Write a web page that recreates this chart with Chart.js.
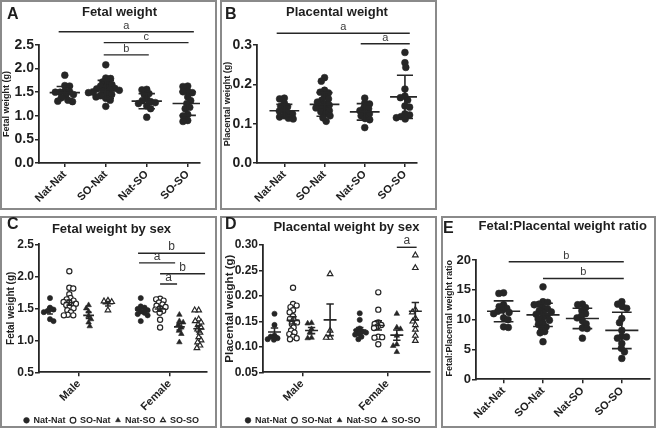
<!DOCTYPE html>
<html>
<head>
<meta charset="utf-8">
<script src="https://cdn.jsdelivr.net/npm/chart.js"></script>
<style>
  body { margin: 0; background: #fff; width: 656px; height: 428px; position: relative; overflow: hidden; font-family: "Liberation Sans", Arial, sans-serif; }
  .panel { position: absolute; box-sizing: border-box; border: 2px solid #8a8a8a; background: #fff; }
  .panel canvas { position: absolute; left: 0; top: 0; }
  .tag { position: absolute; font-weight: bold; font-size: 16px; line-height: 16px; color: #1e1e1e; }
</style>
</head>
<body>
<div class="panel" style="left:0;top:0;width:217px;height:210px"><canvas id="chartA" width="213" height="206"></canvas><div class="tag" style="left:5px;top:4px">A</div></div>
<div class="panel" style="left:220px;top:0;width:217px;height:210px"><canvas id="chartB" width="213" height="206"></canvas><div class="tag" style="left:3px;top:4px">B</div></div>
<div class="panel" style="left:0;top:216px;width:217px;height:212px"><canvas id="chartC" width="213" height="208"></canvas><div class="tag" style="left:5px;top:-2px">C</div></div>
<div class="panel" style="left:220px;top:216px;width:217px;height:212px"><canvas id="chartD" width="213" height="208"></canvas><div class="tag" style="left:3px;top:-2px">D</div></div>
<div class="panel" style="left:441px;top:216px;width:215px;height:212px"><canvas id="chartE" width="211" height="208"></canvas><div class="tag" style="left:0px;top:2px">E</div></div>

<script>
// ---- data ----
const groups = ["Nat-Nat", "SO-Nat", "Nat-SO", "SO-SO"];
const sexes = ["Male", "Female"];

// A: fetal weight (g), mean ± SD
const fetalWeight = [
  [1.86, 1.64, 1.63, 1.52, 1.51, 1.50, 1.50, 1.45, 1.42, 1.38, 1.33, 1.31, 1.30],
  [2.08, 1.80, 1.79, 1.72, 1.70, 1.66, 1.63, 1.60, 1.58, 1.57, 1.55, 1.54, 1.52, 1.50, 1.49, 1.47, 1.45, 1.43, 1.40, 1.37, 1.33, 1.20],
  [1.56, 1.55, 1.47, 1.45, 1.36, 1.32, 1.30, 1.28, 1.26, 1.21, 1.15, 0.97],
  [1.63, 1.62, 1.52, 1.51, 1.49, 1.40, 1.32, 1.26, 1.18, 1.15, 1.03, 1.00, 0.90, 0.88]
];
const fetalMean = [1.49, 1.56, 1.31, 1.26];
const fetalSD = [0.13, 0.19, 0.16, 0.25];
const fetalSig = [
  { from: 0.85, to: 4.15, y: 2.78, text: "a" },
  { from: 1.95, to: 4.02, y: 2.55, text: "c" },
  { from: 1.95, to: 3.05, y: 2.29, text: "b" }
];

// B: placental weight (g), mean ± SD
const placentalWeight = [
  [0.165, 0.163, 0.152, 0.144, 0.143, 0.135, 0.132, 0.128, 0.125, 0.120, 0.117, 0.114, 0.112],
  [0.217, 0.208, 0.185, 0.180, 0.178, 0.170, 0.163, 0.160, 0.155, 0.150, 0.147, 0.143, 0.140, 0.137, 0.133, 0.130, 0.125, 0.120, 0.115, 0.106],
  [0.165, 0.152, 0.150, 0.140, 0.138, 0.133, 0.128, 0.125, 0.120, 0.113, 0.110, 0.090],
  [0.281, 0.255, 0.243, 0.188, 0.170, 0.166, 0.160, 0.145, 0.142, 0.125, 0.122, 0.118, 0.115, 0.112]
];
const placentalMean = [0.133, 0.149, 0.130, 0.168];
const placentalSD = [0.016, 0.030, 0.021, 0.055];
const placentalSig = [
  { from: 0.81, to: 4.12, y: 0.330, text: "a" },
  { from: 2.90, to: 4.12, y: 0.303, text: "a" }
];

// C: fetal weight by sex (g), mean ± SEM
const fetalMale = [
  [1.66, 1.51, 1.48, 1.46, 1.44, 1.33, 1.30],
  [2.08, 1.82, 1.81, 1.72, 1.66, 1.64, 1.62, 1.60, 1.59, 1.57, 1.55, 1.52, 1.50, 1.47, 1.44, 1.40, 1.39, 1.39],
  [1.55, 1.50, 1.45, 1.38, 1.33, 1.28, 1.22],
  [1.62, 1.61, 1.60, 1.47]
];
const fetalFemale = [
  [1.66, 1.53, 1.51, 1.49, 1.47, 1.45, 1.43, 1.41, 1.39, 1.30],
  [1.65, 1.64, 1.62, 1.59, 1.56, 1.54, 1.52, 1.50, 1.48, 1.46, 1.43, 1.32, 1.20],
  [1.40, 1.30, 1.28, 1.24, 1.20, 1.15, 1.10, 0.97],
  [1.47, 1.47, 1.33, 1.30, 1.28, 1.24, 1.20, 1.17, 1.12, 1.05, 1.00, 0.97, 0.92, 0.88]
];
const fetalMaleMean = [1.46, 1.59, 1.39, 1.57];
const fetalMaleSEM = [0.05, 0.04, 0.05, 0.035];
const fetalFemaleMean = [1.47, 1.49, 1.21, 1.18];
const fetalFemaleSEM = [0.03, 0.035, 0.05, 0.05];
const fetalSexSig = [
  { from: 5.56, to: 9.03, y: 2.36, text: "b" },
  { from: 5.61, to: 7.48, y: 2.21, text: "a" },
  { from: 6.70, to: 9.03, y: 2.04, text: "b" },
  { from: 6.70, to: 7.58, y: 1.88, text: "a" }
];

// D: placental weight by sex (g), mean ± SEM
const placentalMale = [
  [0.165, 0.143, 0.122, 0.120, 0.117, 0.115, 0.114],
  [0.216, 0.184, 0.181, 0.178, 0.172, 0.168, 0.160, 0.155, 0.152, 0.148, 0.145, 0.138, 0.132, 0.128, 0.125, 0.120, 0.117, 0.115],
  [0.147, 0.146, 0.135, 0.128, 0.118, 0.117],
  [0.243, 0.132, 0.118, 0.118]
];
const placentalFemale = [
  [0.166, 0.153, 0.136, 0.132, 0.130, 0.128, 0.126, 0.124, 0.120, 0.115],
  [0.207, 0.173, 0.148, 0.145, 0.143, 0.140, 0.137, 0.120, 0.119, 0.118, 0.105],
  [0.165, 0.138, 0.135, 0.122, 0.105, 0.102, 0.090],
  [0.280, 0.255, 0.173, 0.168, 0.156, 0.150, 0.143, 0.134, 0.122, 0.112]
];
const placentalMaleMean = [0.129, 0.152, 0.132, 0.153];
const placentalMaleSEM = [0.008, 0.007, 0.006, 0.031];
const placentalFemaleMean = [0.133, 0.142, 0.123, 0.170];
const placentalFemaleSEM = [0.005, 0.009, 0.010, 0.017];
const placentalSexSig = [
  { from: 7.60, to: 8.67, y: 0.2955, text: "a" }
];

// E: fetal:placental weight ratio, mean ± SD
const ratio = [
  [14.5, 14.4, 12.5, 12.2, 11.9, 11.6, 11.4, 11.2, 11.0, 10.3, 10.0, 8.8, 8.7],
  [15.5, 13.0, 12.9, 12.6, 12.5, 12.0, 11.8, 11.5, 11.3, 11.1, 10.9, 10.6, 10.3, 10.1, 9.9, 9.4, 9.2, 8.8, 8.6, 8.0, 7.8, 6.3],
  [12.6, 12.5, 12.0, 11.5, 11.0, 10.6, 10.3, 9.8, 9.3, 8.6, 8.5, 6.9],
  [13.0, 12.6, 12.2, 11.9, 10.2, 9.5, 8.2, 7.2, 7.1, 6.9, 6.0, 5.2, 4.6, 3.5]
];
const ratioMean = [11.4, 10.8, 10.2, 8.2];
const ratioSD = [1.75, 1.95, 1.7, 3.05];
const ratioSig = [
  { from: 1.13, to: 4.05, y: 19.7, text: "b" },
  { from: 2.00, to: 4.05, y: 16.9, text: "b" }
];

// ---- drawing ----
const FONT = "'Liberation Sans', Arial, sans-serif";
const ink = "#262626";
Chart.defaults.font.family = FONT;

// spread dots sideways so they don't sit on top of each other (pixel space)
function swarm(values, center, pxX, pxY, d) {
  const order = values.map((v, i) => i).sort((a, b) => values[b] - values[a]);
  const placed = [];
  const out = [];
  order.forEach(i => {
    const y = values[i] * pxY;
    const blocks = [];
    placed.forEach(p => {
      const dy = Math.abs(p.y - y);
      if (dy < d) {
        const w = Math.sqrt(d * d - dy * dy);
        blocks.push([p.x - w, p.x + w]);
      }
    });
    const cands = [0];
    blocks.forEach(b => cands.push(b[0], b[1]));
    cands.sort((a, b) => Math.abs(a) - Math.abs(b) || (placed.length % 2 ? a - b : b - a));
    const x = cands.find(c => blocks.every(b => c <= b[0] + 1e-6 || c >= b[1] - 1e-6));
    placed.push({ x, y });
    out.push({ x: center + x / pxX, y: values[i] });
  });
  return out;
}

function gap() { return { x: null, y: null }; }

function errorBars(centers, means, errs, halfMean, halfCap) {
  const pts = [];
  centers.forEach((c, i) => {
    const m = means[i], e = errs[i];
    pts.push({ x: c - halfMean, y: m }, { x: c + halfMean, y: m }, gap());
    pts.push({ x: c, y: m - e }, { x: c, y: m + e }, gap());
    pts.push({ x: c - halfCap, y: m + e }, { x: c + halfCap, y: m + e }, gap());
    pts.push({ x: c - halfCap, y: m - e }, { x: c + halfCap, y: m - e }, gap());
  });
  return pts;
}

function sigLines(items) {
  const pts = [];
  items.forEach(s => pts.push({ x: s.from, y: s.y }, { x: s.to, y: s.y }, gap()));
  return pts;
}

function sigLabels(items, size) {
  return {
    id: "sigLabels",
    afterDatasetsDraw(chart) {
      const { ctx, scales } = chart;
      ctx.save();
      ctx.fillStyle = "#3a3a3a";
      ctx.font = size + "px " + FONT;
      ctx.textAlign = "center";
      ctx.textBaseline = "alphabetic";
      items.forEach(s => {
        ctx.fillText(s.text, scales.x.getPixelForValue((s.from + s.to) / 2), scales.y.getPixelForValue(s.y) - 3);
      });
      ctx.restore();
    }
  };
}

const markers = [
  { style: "circle", open: false },
  { style: "circle", open: true },
  { style: "triangle", open: false },
  { style: "triangle", open: true }
];

function makeChart(id, p) {
  const pxX = p.plotW / (p.xMax - p.xMin);
  const pxY = p.plotH / (p.yMax - p.yMin);
  const datasets = [];

  groups.forEach((g, gi) => {
    let pts = [];
    p.sets.forEach(set => {
      pts = pts.concat(swarm(set.values[gi], set.centers[gi], pxX, pxY, p.dot));
    });
    const mk = p.bySex ? markers[gi] : markers[0];
    datasets.push({
      label: g,
      data: pts,
      pointStyle: mk.style,
      pointRadius: mk.style === "triangle" ? p.r + 0.6 : p.r,
      backgroundColor: mk.open ? "#fff" : ink,
      borderColor: ink,
      borderWidth: mk.open ? 1.2 : 0.6,
      order: 2
    });
  });

  let bars = [];
  p.sets.forEach(set => {
    bars = bars.concat(errorBars(set.centers, set.mean, set.err, p.halfMean, p.halfCap));
  });
  datasets.push({ label: "mean", data: bars, showLine: true, borderColor: ink, borderWidth: 1.6, pointRadius: 0, order: 1 });
  datasets.push({ label: "sig", data: sigLines(p.sig), showLine: true, borderColor: ink, borderWidth: 1.4, pointRadius: 0, clip: false, order: 0 });

  return new Chart(document.getElementById(id), {
    type: "scatter",
    data: { datasets },
    options: {
      responsive: false,
      animation: false,
      devicePixelRatio: 1,
      events: [],
      layout: { padding: { left: p.padL || 0, right: p.padR, top: 0, bottom: p.padB } },
      plugins: {
        tooltip: { enabled: false },
        title: {
          display: true, text: p.title, fullSize: !!p.titleFull, color: "#1e1e1e",
          font: { size: 13, weight: "bold" },
          padding: { top: p.titleTop, bottom: p.titleBottom }
        },
        legend: p.bySex ? {
          display: true, position: "bottom",
          labels: {
            usePointStyle: true, boxWidth: 5, boxHeight: 4, padding: p.legendPad, color: "#1e1e1e",
            font: { size: 9, weight: "bold" },
            filter: item => item.datasetIndex < 4
          }
        } : { display: false }
      },
      scales: {
        x: {
          min: p.xMin, max: p.xMax,
          afterBuildTicks: s => { s.ticks = p.xTicks.map(v => ({ value: v })); },
          ticks: {
            autoSkip: false, maxRotation: 45, minRotation: 45, padding: 1, color: "#1e1e1e",
            font: { size: 11, weight: "bold" },
            callback: (v, i) => p.xLabels[i]
          },
          grid: { drawOnChartArea: false, tickLength: 4, color: ink, lineWidth: 1.5 },
          border: { color: ink, width: 1.8 },
          afterFit: s => { s.height = p.xAxisH; }
        },
        y: {
          min: p.yMin, max: p.yMax,
          ticks: {
            stepSize: p.yStep, padding: 1, color: "#1e1e1e",
            font: { size: p.yTickSize, weight: "bold" },
            callback: v => v.toFixed(p.yDec)
          },
          grid: { drawOnChartArea: false, tickLength: 4, color: ink, lineWidth: 1.5 },
          border: { color: ink, width: 1.8 },
          title: {
            display: true, text: p.yTitle, color: "#1e1e1e", align: p.yTitleAlign || "center",
            font: { size: p.yTitleSize, weight: "bold", lineHeight: 1 },
            padding: { top: p.yTitlePad, bottom: 0 }
          },
          afterFit: s => { s.width = p.yAxisW; }
        }
      }
    },
    plugins: [sigLabels(p.sig, p.sigSize)]
  });
}

const cat = [1, 2, 3, 4];
const sexOffsetC = 4.7;
const sexOffsetD = 4.6;

makeChart("chartA", {
  title: "Fetal weight", yTitle: "Fetal weight (g)",
  sets: [{ values: fetalWeight, centers: cat, mean: fetalMean, err: fetalSD }],
  sig: fetalSig, sigSize: 11,
  xMin: 0.37, xMax: 4.3, xTicks: cat, xLabels: groups,
  yMin: 0, yMax: 2.5, yStep: 0.5, yDec: 1, yTickSize: 14, yTitleSize: 9, yTitlePad: 0,
  padR: 15, padB: 0, yAxisW: 37, xAxisH: 45, titleTop: 2.2, titleBottom: 25.2,
  plotW: 161, plotH: 118, dot: 4.8, r: 3.4, halfMean: 0.37, halfCap: 0.2
});

makeChart("chartB", {
  title: "Placental weight", yTitle: "Placental weight (g)",
  sets: [{ values: placentalWeight, centers: cat, mean: placentalMean, err: placentalSD }],
  sig: placentalSig, sigSize: 11,
  xMin: 0.32, xMax: 4.3, xTicks: cat, xLabels: groups,
  yMin: 0, yMax: 0.3, yStep: 0.1, yDec: 1, yTickSize: 14, yTitleSize: 9, yTitlePad: 1.5,
  padR: 18, padB: 0, yAxisW: 35, xAxisH: 45, titleTop: 2.2, titleBottom: 25.2,
  plotW: 160, plotH: 118, dot: 4.8, r: 3.4, halfMean: 0.37, halfCap: 0.2
});

makeChart("chartC", {
  title: "Fetal weight by sex", yTitle: "Fetal weight (g)", bySex: true, titleFull: true,
  sets: [
    { values: fetalMale, centers: cat, mean: fetalMaleMean, err: fetalMaleSEM },
    { values: fetalFemale, centers: cat.map(c => c + sexOffsetC), mean: fetalFemaleMean, err: fetalFemaleSEM }
  ],
  sig: fetalSexSig, sigSize: 12,
  xMin: 0.43, xMax: 9.13, xTicks: [2.5, 2.5 + sexOffsetC], xLabels: sexes,
  yMin: 0.5, yMax: 2.5, yStep: 0.5, yDec: 1, yTickSize: 12, yTitleSize: 10, yTitlePad: -9.3,
  padL: 14, padR: 8, padB: -8.8, yAxisW: 23, xAxisH: 38.5, titleTop: 3.2, titleBottom: 7.5, legendPad: 5,
  plotW: 168, plotH: 128, dot: 4.0, r: 2.6, halfMean: 0.28, halfCap: 0.15
});

makeChart("chartD", {
  title: "Placental weight by sex", yTitle: "Placental weight (g)", bySex: true,
  sets: [
    { values: placentalMale, centers: cat, mean: placentalMaleMean, err: placentalMaleSEM },
    { values: placentalFemale, centers: cat.map(c => c + sexOffsetD), mean: placentalFemaleMean, err: placentalFemaleSEM }
  ],
  sig: placentalSexSig, sigSize: 12,
  xMin: 0.38, xMax: 9.38, xTicks: [2.5, 2.5 + sexOffsetD], xLabels: sexes,
  yMin: 0.05, yMax: 0.30, yStep: 0.05, yDec: 2, yTickSize: 12, yTitleSize: 11.5, yTitlePad: -9.05,
  padL: 11, padR: 2, padB: -8.8, yAxisW: 30, xAxisH: 38.5, titleTop: 1.5, titleBottom: 9.9, legendPad: 5,
  plotW: 170, plotH: 127.3, dot: 4.0, r: 2.6, halfMean: 0.35, halfCap: 0.2
});

makeChart("chartE", {
  title: "Fetal:Placental weight ratio", yTitle: "Fetal:Placental weight ratio", yTitleAlign: "end",
  sets: [{ values: ratio, centers: cat, mean: ratioMean, err: ratioSD }],
  sig: ratioSig, sigSize: 11,
  xMin: 0.3, xMax: 4.7, xTicks: cat, xLabels: groups,
  yMin: 0, yMax: 20, yStep: 5, yDec: 0, yTickSize: 13, yTitleSize: 9, yTitlePad: 1.8,
  padR: 2, padB: 0, yAxisW: 33, xAxisH: 46.7, titleTop: 0.9, titleBottom: 25.5,
  plotW: 176, plotH: 119.3, dot: 4.8, r: 3.4, halfMean: 0.42, halfCap: 0.25
});
</script>
</body>
</html>
